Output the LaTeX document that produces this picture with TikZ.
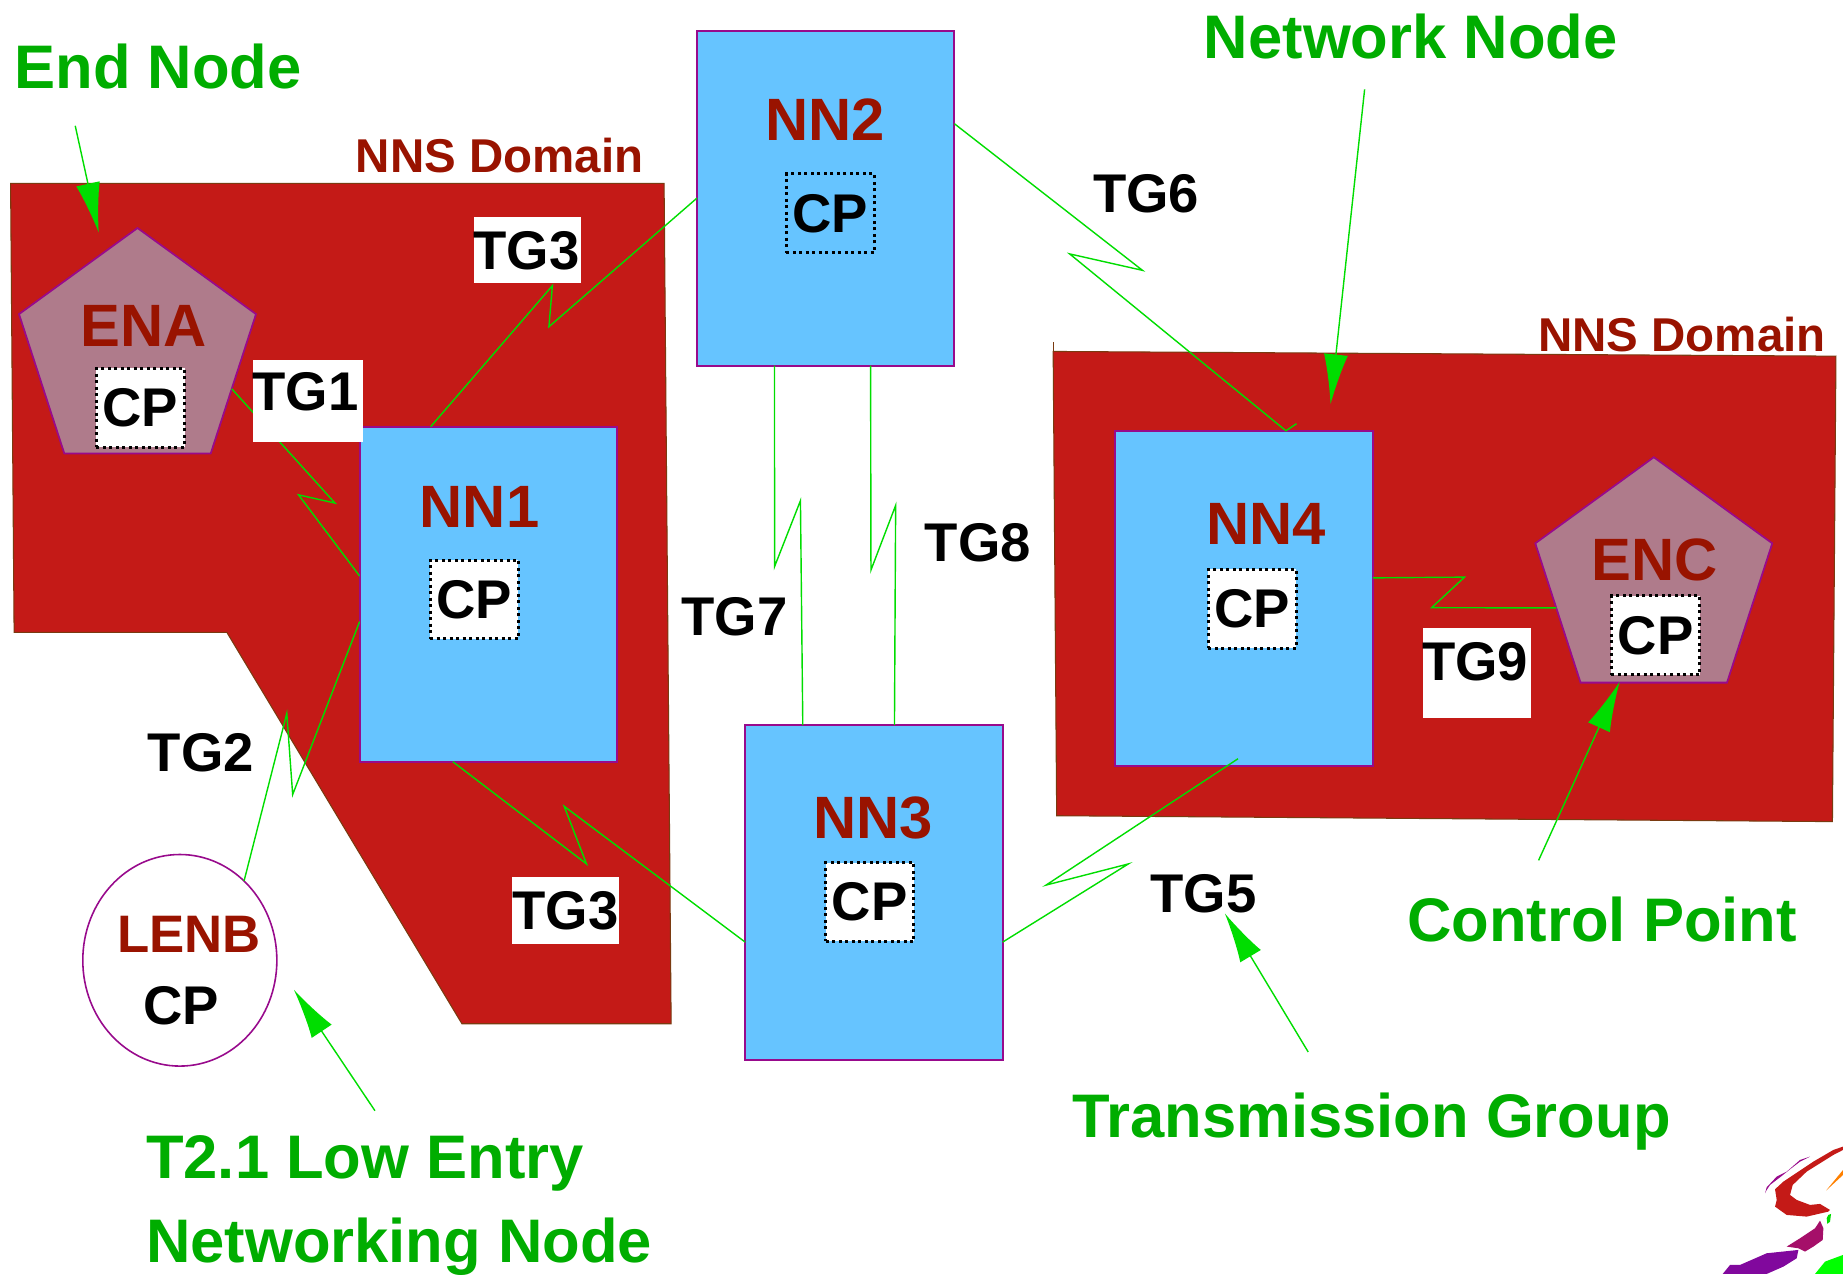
\documentclass[tikz,border=0pt]{standalone}
\usepackage{fontspec}
\setmainfont{Liberation Sans}
\usetikzlibrary{shapes.geometric,arrows.meta}
\definecolor{nnsred}{HTML}{C41A17}
\definecolor{nnsedge}{HTML}{7A3A10}
\definecolor{nnblue}{HTML}{66C4FF}
\definecolor{enmauve}{HTML}{AF7B8B}
\definecolor{edgepurple}{HTML}{980A8C}
\definecolor{darkred}{HTML}{991300}
\definecolor{titlegreen}{HTML}{00AD00}
\definecolor{linkgreen}{HTML}{00DD00}
\tikzset{
	nnsarea/.style={fill=nnsred,draw=nnsedge,line width=0.6pt},
	nnbox/.style={rectangle,fill=nnblue,draw=edgepurple,line width=1.1pt,minimum width=5.1465cm,minimum height=6.6975cm,inner sep=0pt,outer sep=0pt},
	enpoly/.style={regular polygon,regular polygon sides=5,fill=enmauve,draw=edgepurple,line width=1pt,minimum size=4.982cm,inner sep=0pt,outer sep=0pt},
	lenshape/.style={ellipse,fill=white,draw=edgepurple,line width=0.9pt,minimum width=3.88cm,minimum height=4.23cm,inner sep=0pt,outer sep=0pt},
	cpbox/.style={rectangle,fill=white,draw=black,line width=1.7pt,dotted,minimum width=1.7625cm,minimum height=1.5745cm,inner sep=0pt,text=black,font=\fontsize{31}{34}\selectfont\bfseries},
	whitebox/.style={rectangle,fill=white,inner sep=0pt},
	blacktext/.style={font=\fontsize{31}{34}\selectfont\bfseries,text=black,inner sep=0pt},
	redtext/.style={font=\fontsize{34}{38}\selectfont\bfseries,text=darkred,inner sep=0pt},
	domaintext/.style={font=\fontsize{27}{30}\selectfont\bfseries,text=darkred,inner sep=0pt},
	greentext/.style={font=\fontsize{35}{40}\selectfont\bfseries,text=titlegreen,inner sep=0pt,anchor=base west},
	tglink/.style={draw=linkgreen,line width=0.8pt},
	pointer/.style={draw=linkgreen,line width=0.8pt,-{Latex[length=1cm,width=0.48cm]}}
}
\begin{document}
\begin{tikzpicture}[x=0.0235cm,y=-0.0235cm]
\useasboundingbox (0,0) rectangle (1568,1084);

\draw[nnsarea] (9,156) -- (565,156) -- (571,871) -- (393,871) -- (193,538) -- (12,538) -- cycle;
\draw[nnsarea] (896,299) -- (1562,303) -- (1559,699) -- (899,694) -- cycle;
\draw[nnsarea] (896,291) -- (896,299);

\foreach \n/\x/\y in {nn1/415.5/505.5,nn2/702.5/168.5,nn3/743.5/759.5,nn4/1058.5/509}
{
	\node (\n) at (\x,\y) [nnbox] {};
}
\foreach \n/\x/\y in {ena/117/300,enc/1407/495}
{
	\node (\n) at (\x,\y) [enpoly] {};
}
\node (lenb) at (153,817) [lenshape] {};

\draw[tglink] (ena.-21) -- (285,428) -- (254,421) -- (nn1.172);
\draw[tglink] (nn1.109) -- (470,243) -- (467,278) -- (nn2.west);
\draw[tglink] (lenb.51) -- (244,607) -- (249,676) -- (nn1.192);
\draw[tglink] (nn1.258.5) -- (499,735) -- (480,686) -- (nn3.201.7);
\draw[tglink] (nn2.30) -- (972,230) -- (910,216) -- (nn4.76.7) -- ++(9,-6);
\draw[tglink] (nn2.253) -- (659,482) -- (681,426) -- (nn3.113.5);
\draw[tglink] (nn2.285) -- (741,485) -- (762,430) -- (nn3.83);
\draw[tglink] ([xshift=-3.5pt,yshift=4pt]nn4.south) -- (890,753) -- (960,735) -- (nn3.-21);
\draw[tglink] (nn4.9.3) -- (1246,491) -- (1218,517) -- (enc.195);

\foreach \n/\x/\y/\w/\h in {tgboxa/448.5/213/2.14cm/1.32cm,tgboxb/262/341/2.21cm/1.65cm,tgboxc/481.5/774.5/2.14cm/1.34cm,tgboxd/1257/572.5/2.16cm/1.81cm}
{
	\node (\n) at (\x,\y) [whitebox,minimum width=\w,minimum height=\h] {};
}
\foreach \n/\x/\y/\t in {tgtop/448/213/TG3,tgone/260/333/TG1,tgtwo/171/640/TG2,tglow/481/775/TG3,tgfive/1024/760/TG5,tgsix/975/165/TG6,tgseven/625/525/TG7,tgeight/832/462/TG8,tgnine/1255/563/TG9,lenbcp/154/856/CP}
{
	\node (\n) at (\x,\y) [blacktext] {\t};
}

\foreach \n/\x/\y in {enacp/119.5/347,nnonecp/403.5/510,nnthreecp/740/767.5,nnfourcp/1065.5/518,enccp/1408.5/540.5}
{
	\node (\n) at (\x,\y) [cpbox] {CP};
}
\node (nntwocp) at (706.5,181.5) [cpbox,fill=none] {CP};

\foreach \n/\x/\y/\t in {nnonet/408/431/NN1,nntwot/702/102/NN2,nnthreet/743/696/NN3,nnfourt/1077/446/NN4,enat/122/277/ENA,enct/1408/476/ENC}
{
	\node (\n) at (\x,\y) [redtext] {\t};
}
\node (lenbt) at (161,795) [redtext,font=\fontsize{30}{33}\selectfont\bfseries] {LENB};
\node (nnsleft) at (425,132) [domaintext] {NNS Domain};
\node (nnsright) at (1431,285) [domaintext] {NNS Domain};

\foreach \n/\x/\y/\t in {endt/12/75/End Node,netwt/1024/50/Network Node,ctrlt/1197/801/Control Point,transt/912/968/Transmission Group,lowt/124/1003/T2.1 Low Entry,networkingt/124/1074/Networking Node}
{
	\node (\n) at (\x,\y) [greentext] {\t};
}

\foreach \n/\a/\b/\c/\d in {endp/64/107/84/198,netwp/1161/76/1132/344,ctrlp/1309/732/1378/580,transp/1113/895/1042/777,lowp/319/945/250/842}
{
	\coordinate (\n a) at (\a,\b);
	\coordinate (\n b) at (\c,\d);
	\draw[pointer] (\n a) -- (\n b);
}

\begin{scope}[shift={(1276.2,935.8)},scale=0.2836]
	\fill[nnsred] (1029,140) -- (1000,150) -- (940,185) -- (880,225) -- (850,245) -- (825,268) -- (830,300) -- (825,320) -- (860,345) -- (920,350) -- (985,335) -- (990,330) -- (960,312) -- (930,315) -- (890,300) -- (870,285) -- (878,255) -- (920,215) -- (1000,165) -- (1029,150) -- cycle;
	\fill[edgepurple!70!nnsred] (960,362) -- (970,385) -- (968,420) -- (940,440) -- (915,455) -- (895,445) -- (860,440) -- (900,415) -- (945,385) -- cycle;
	\fill[edgepurple!85!blue] (668,522) -- (690,495) -- (720,495) -- (800,460) -- (895,450) -- (890,475) -- (850,500) -- (800,522) -- cycle;
	\fill[orange] (978,272) -- (1029,210) -- (1029,225) -- cycle;
	\fill[linkgreen] (985,345) -- (993,342) -- (990,365) -- (982,372) -- (980,355) -- cycle;
	\fill[green] (945,522) -- (975,485) -- (1029,465) -- (1029,522) -- cycle;
	\fill[edgepurple] (795,280) -- (800,262) -- (830,230) -- (860,215) -- (900,180) -- (930,170) -- (900,185) -- (870,208) -- (840,232) -- (810,255) -- (800,270) -- cycle;
\end{scope}
\end{tikzpicture}
\end{document}
